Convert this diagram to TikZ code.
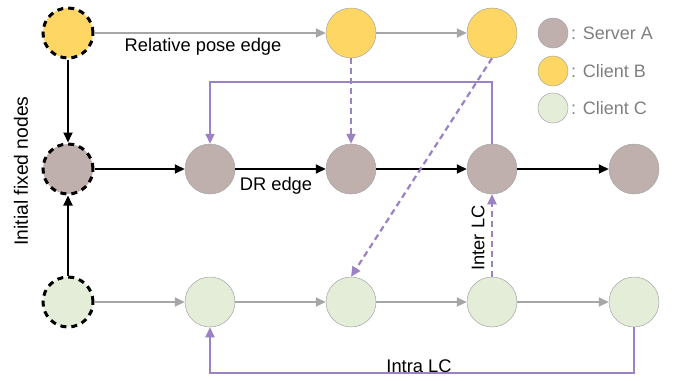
\documentclass[tikz,border=0pt]{standalone}
\usepackage{fontspec}
\setmainfont{Liberation Sans}
\usetikzlibrary{arrows.meta}
\definecolor{srvA}{HTML}{BFB0AD}
\definecolor{cliB}{HTML}{FDD663}
\definecolor{cliC}{HTML}{E3EDD8}
\definecolor{lc}{HTML}{9B82C4}
\definecolor{rel}{HTML}{A6A6A6}
\definecolor{legtext}{HTML}{7F7F7F}
\tikzset{
  pose/.style={circle, minimum size=50pt, inner sep=0pt, draw=black!35, line width=0.5pt},
  fixed/.style={pose, draw=black, line width=3pt, dash pattern=on 6pt off 5pt},
  legdot/.style={circle, minimum size=30pt, inner sep=0pt, draw=black!35, line width=0.5pt},
  tip/.style={-{Triangle[length=10pt,width=9pt]}},
  dredge/.style={tip, black, line width=2pt},
  reledge/.style={tip, rel, line width=2pt},
  lcedge/.style={tip, lc, line width=2.2pt},
  lcdash/.style={lcedge, dash pattern=on 6pt off 4pt},
  lbl/.style={font=\fontsize{18.3}{20}\selectfont, text=black, inner sep=0pt},
  leglbl/.style={font=\fontsize{18}{20}\selectfont, text=legtext, inner sep=0pt, anchor=west}
}
\begin{document}
\begin{tikzpicture}[x=1pt, y=-1pt]
\useasboundingbox (0,0) rectangle (679,380);

% client B trajectory (top row)
\node[fixed, fill=cliB] (b0) at (68,33) {};
\node[pose, fill=cliB] (b1) at (351,33) {};
\node[pose, fill=cliB] (b2) at (492,33) {};

% server A trajectory (middle row)
\node[fixed, fill=srvA] (a0) at (68,169) {};
\node[pose, fill=srvA] (a1) at (210,169) {};
\node[pose, fill=srvA] (a2) at (351,169) {};
\node[pose, fill=srvA] (a3) at (492,169) {};
\node[pose, fill=srvA] (a4) at (634,169) {};

% client C trajectory (bottom row)
\node[fixed, fill=cliC] (c0) at (68,302) {};
\node[pose, fill=cliC] (c1) at (210,302) {};
\node[pose, fill=cliC] (c2) at (351,302) {};
\node[pose, fill=cliC] (c3) at (492,302) {};
\node[pose, fill=cliC] (c4) at (634,302) {};

% legend
\node[legdot, fill=srvA] (ls) at (553,33) {};
\node[legdot, fill=cliB] (lb) at (553,71) {};
\node[legdot, fill=cliC] (lcc) at (553,108) {};
\node[leglbl] (lst) at (571,33) {: Server A};
\node[leglbl] (lbt) at (571,71) {: Client B};
\node[leglbl] (lct) at (571,108) {: Client C};

% relative pose edges
\draw[reledge] (b0) -- (b1);
\draw[reledge] (b1) -- (b2);
\draw[reledge] (c0) -- (c1);
\draw[reledge] (c1) -- (c2);
\draw[reledge] (c2) -- (c3);
\draw[reledge] (c3) -- (c4);

% DR edges
\draw[dredge] (b0) -- (a0);
\draw[dredge] (c0) -- (a0);
\draw[dredge] (a0) -- (a1);
\draw[dredge] (a1) -- (a2);
\draw[dredge] (a2) -- (a3);
\draw[dredge] (a3) -- (a4);

% loop closures
\draw[lcedge] (a3.north) -- ++(0,-62) -| (a1.north);
\draw[lcedge] (c4.south) -- ++(0,46) -| (c1.south);
\draw[lcdash] (b1) -- (a2);
\draw[lcdash] (b2.south) -- (c2.north);
\draw[lcdash] (c3) -- (a3);

% labels
\node[lbl] (trel) at (203,47) {Relative pose edge};
\node[lbl] (tdr) at (276,186) {DR edge};
\node[lbl, rotate=90] (tinter) at (478,238) {Inter LC};
\node[lbl] (tintra) at (419,366) {Intra LC};
\node[lbl, rotate=90, font=\fontsize{19.3}{21}\selectfont] (tinit) at (21,171) {Initial fixed nodes};
\end{tikzpicture}
\end{document}
